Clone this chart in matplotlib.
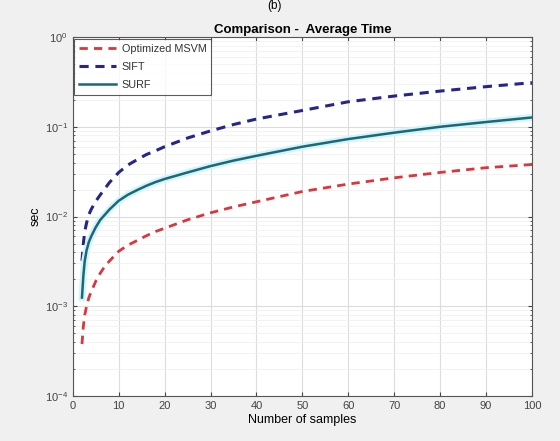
import matplotlib.pyplot as plt
import numpy as np
from matplotlib.ticker import LogLocator, NullFormatter

plt.rcParams['font.family'] = ['Liberation Sans', 'DejaVu Sans']

# samples and average times (sec)
samples = [2, 2.3, 2.6, 3, 3.5, 4, 5, 6, 7, 8, 10, 12, 14, 16, 18, 20,
           25, 30, 35, 40, 50, 60, 70, 80, 90, 100]
msvm = [3.8e-4, 6.0e-4, 8.0e-4, 1.0e-3, 1.25e-3, 1.45e-3, 1.9e-3, 2.35e-3, 2.8e-3, 3.2e-3,
        4.1e-3, 4.8e-3, 5.4e-3, 6.1e-3, 6.8e-3, 7.4e-3, 9.2e-3, 0.011, 0.0128, 0.0146,
        0.019, 0.023, 0.027, 0.031, 0.035, 0.038]
sift = [3.2e-3, 5.0e-3, 6.8e-3, 8.5e-3, 0.0105, 0.012, 0.0148, 0.0175, 0.0205, 0.024,
        0.031, 0.0375, 0.043, 0.049, 0.054, 0.060, 0.075, 0.090, 0.106, 0.122,
        0.152, 0.19, 0.22, 0.25, 0.28, 0.31]
surf = [1.25e-3, 2.2e-3, 3.2e-3, 4.2e-3, 5.2e-3, 6.0e-3, 7.6e-3, 9.2e-3, 0.0105, 0.012,
        0.015, 0.0175, 0.0197, 0.022, 0.0242, 0.0262, 0.031, 0.0365, 0.042, 0.0475,
        0.060, 0.073, 0.086, 0.100, 0.113, 0.127]

fig = plt.figure(figsize=(5.6, 4.41), dpi=100, facecolor='#f0f0f0')
ax = fig.add_axes([0.130, 0.102, 0.820, 0.814])

ax.plot(samples, msvm, '--', color='#d9363e', lw=2, dashes=(3, 2.2), label='Optimized MSVM')
ax.plot(samples, sift, '--', color='#25258a', lw=2.2, dashes=(3, 2.2), label='SIFT')
ax.plot(samples, surf, '-', color='#d2f4fa', lw=5, zorder=2)
ax.plot(samples, surf, '-', color='#1b6878', lw=1.8, label='SURF', zorder=3)

ax.set_yscale('log')
ax.set_xlim(0, 100)
ax.set_ylim(1e-4, 1)
ax.set_xticks(np.arange(0, 101, 10))
ax.yaxis.set_minor_locator(LogLocator(base=10, subs=np.arange(2, 10)))
ax.yaxis.set_minor_formatter(NullFormatter())

ax.grid(True, which='major', color='#dcdcdc', lw=0.8)
ax.grid(True, which='minor', axis='y', color='#f1f1f1', lw=0.6)
ax.set_axisbelow(True)

ax.tick_params(which='both', direction='in', top=True, right=True,
               labelsize=8, colors='#444444', length=3)
ax.tick_params(which='minor', length=1.5)
for s in ax.spines.values():
    s.set_color('#555555')
    s.set_linewidth(0.8)

ax.set_title('Comparison -  Average Time', fontsize=9.5, fontweight='bold', pad=3)
ax.set_xlabel('Number of samples', fontsize=9, labelpad=2)
ax.set_ylabel('sec', fontsize=9, labelpad=2)

leg = ax.legend(loc='upper left', fontsize=7.8, frameon=True, fancybox=False,
                borderaxespad=0.15, handlelength=3.4, handletextpad=0.5,
                labelspacing=0.75, borderpad=0.45)
leg.get_frame().set_edgecolor('#333333')
leg.get_frame().set_linewidth(0.8)
for t in leg.get_texts():
    t.set_color('#333333')

fig.text(0.49, 0.999, '(b)', ha='center', va='top', fontsize=8.5)

fig.savefig('out.png', dpi=100, facecolor=fig.get_facecolor())
